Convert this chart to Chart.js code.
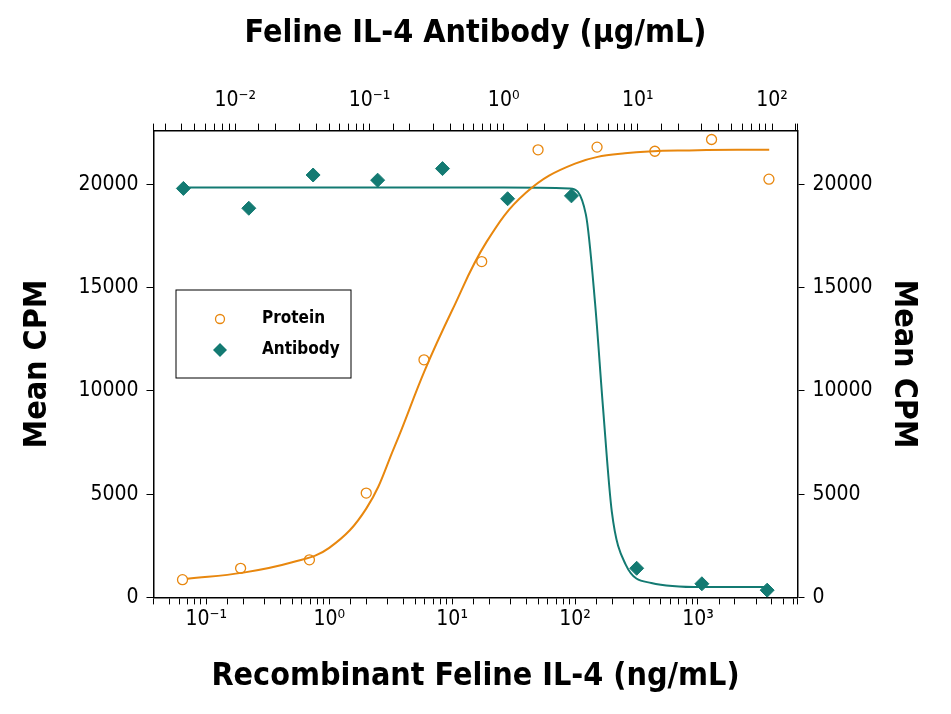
<!DOCTYPE html>
<html><head><meta charset="utf-8">
<script src="https://cdn.jsdelivr.net/npm/chart.js@4"></script>
<style>body{margin:0;background:#fff}#wrap{width:951px;height:714px}</style>
</head><body><div id="wrap"><canvas id="c"></canvas></div>
<script>
// Protein: x in ng/mL (bottom axis)
const proteinX = [0.064, 0.19, 0.69, 2.0, 5.9, 17.4, 50, 151, 446, 1290, 3780];
const proteinY = [860, 1410, 1820, 5050, 11500, 16260, 21670, 21800, 21600, 22170, 20250];
const proteinFitX = [0.07, 0.2, 0.5, 1, 2, 3.4, 6, 10, 19, 40, 100, 254, 1000, 3800];
const proteinFitY = [900, 1200, 1700, 2400, 4300, 7300, 11000, 13900, 17200, 19600, 21000, 21500, 21650, 21670];
// Antibody: x in ug/mL (top axis)
const antibodyX = [0.0041, 0.0126, 0.038, 0.115, 0.35, 1.07, 3.2, 9.8, 30, 92];
const antibodyY = [19800, 18840, 20450, 20200, 20760, 19300, 19440, 1410, 660, 350];
const antibodyFitX = [0.0041, 0.1, 1, 3.1, 4.1, 4.8, 5.5, 6.4, 8.1, 12.6, 30, 92];
const antibodyFitY = [19850, 19850, 19850, 19800, 18530, 14240, 9190, 4140, 1600, 700, 500, 500];
const cpmTicks = [0, 5000, 10000, 15000, 20000];

const ORANGE = '#E8870E', TEAL = '#137A72';
const FONT = '"DejaVu Sans Condensed", "Liberation Sans", sans-serif';
const pts = (xs, ys) => xs.map((x, i) => ({x: x, y: ys[i]}));
const sup = {'-': '\u207B', '0': '\u2070', '1': '\u00B9', '2': '\u00B2', '3': '\u00B3'};
function logLabel(v) {
  const e = Math.log10(v);
  if (Math.abs(e - Math.round(e)) > 1e-6) return '';
  return '10' + String(Math.round(e)).split('').map(c => sup[c]).join('');
}
const tickFont = {family: FONT, size: 21};
const titleFont = {family: FONT, size: 32, weight: 'bold'};
const setCpm = axis => { axis.ticks = cpmTicks.map(v => ({value: v})); };

const legendPlugin = {
  id: 'boxLegend',
  afterDraw(chart) {
    const ctx = chart.ctx;
    ctx.save();
    ctx.strokeStyle = '#000'; ctx.lineWidth = 1;
    ctx.strokeRect(176, 290, 175, 88);
    ctx.font = 'bold 17px ' + FONT; ctx.fillStyle = '#000'; ctx.textBaseline = 'middle';
    ctx.fillText('Protein', 262, 319);
    ctx.fillText('Antibody', 262, 350);
    ctx.strokeStyle = ORANGE; ctx.lineWidth = 1.3;
    ctx.beginPath(); ctx.arc(220, 319, 4.5, 0, Math.PI * 2); ctx.stroke();
    ctx.fillStyle = TEAL;
    ctx.beginPath(); ctx.moveTo(220, 343); ctx.lineTo(227, 350); ctx.lineTo(220, 357); ctx.lineTo(213, 350); ctx.closePath(); ctx.fill();
    ctx.restore();
  }
};

new Chart(document.getElementById('c'), {
  type: 'scatter',
  data: {datasets: [
    {data: pts(proteinFitX, proteinFitY), showLine: true, tension: 0.4, borderColor: ORANGE, borderWidth: 2, pointRadius: 0, xAxisID: 'x', yAxisID: 'y'},
    {data: pts(antibodyFitX, antibodyFitY), showLine: true, cubicInterpolationMode: 'monotone', borderColor: TEAL, borderWidth: 2, pointRadius: 0, xAxisID: 'x2', yAxisID: 'y'},
    {data: pts(proteinX, proteinY), pointStyle: 'circle', pointRadius: 5, borderColor: ORANGE, backgroundColor: '#fff', borderWidth: 1.3, xAxisID: 'x', yAxisID: 'y'},
    {data: pts(antibodyX, antibodyY), pointStyle: 'rectRot', pointRadius: 7, borderColor: TEAL, backgroundColor: TEAL, xAxisID: 'x2', yAxisID: 'y'}
  ]},
  options: {
    responsive: true, maintainAspectRatio: false, animation: false,
    layout: {padding: {left: 14, right: 14, top: 10, bottom: 14}},
    plugins: {legend: {display: false}, tooltip: {enabled: false}},
    scales: {
      x: {type: 'logarithmic', position: 'bottom', min: Math.pow(10, -1.43), max: Math.pow(10, 3.81),
        border: {color: '#000', width: 1.5},
        grid: {drawOnChartArea: false, color: '#000', tickLength: 7},
        ticks: {autoSkip: false, maxRotation: 0, color: '#000', font: tickFont, callback: logLabel},
        title: {display: true, text: 'Recombinant Feline IL-4 (ng/mL)', color: '#000', font: titleFont, padding: {top: 22}}},
      x2: {type: 'logarithmic', position: 'top', min: Math.pow(10, -2.61), max: Math.pow(10, 2.19),
        border: {color: '#000', width: 1.5},
        grid: {drawOnChartArea: false, color: '#000', tickLength: 7},
        ticks: {autoSkip: false, maxRotation: 0, color: '#000', font: tickFont, callback: logLabel, padding: 10},
        title: {display: true, text: 'Feline IL-4 Antibody (\u00B5g/mL)', color: '#000', font: titleFont, padding: {bottom: 26}}},
      y: {position: 'left', min: 0, max: 22600, afterBuildTicks: setCpm,
        border: {color: '#000', width: 1.5},
        grid: {drawOnChartArea: false, color: '#000', tickLength: 7},
        ticks: {color: '#000', font: tickFont, padding: 8, callback: v => String(v)},
        title: {display: true, text: 'Mean CPM', color: '#000', font: titleFont, padding: {bottom: 14}}},
      y2: {position: 'right', min: 0, max: 22600, afterBuildTicks: setCpm,
        border: {color: '#000', width: 1.5},
        grid: {drawOnChartArea: false, color: '#000', tickLength: 7},
        ticks: {color: '#000', font: tickFont, padding: 8, callback: v => String(v)},
        title: {display: true, text: 'Mean CPM', color: '#000', font: titleFont, padding: {top: 14}}}
    }
  },
  plugins: [legendPlugin]
});
</script></body></html>
